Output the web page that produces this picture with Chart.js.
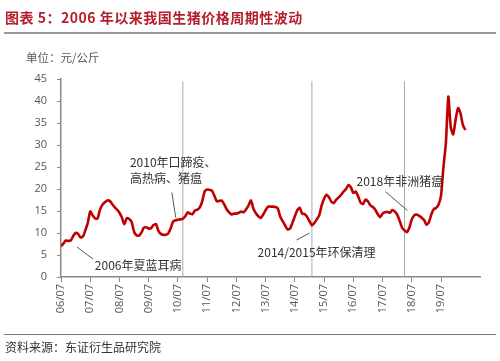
<!DOCTYPE html>
<html>
<head>
<meta charset="utf-8">
<script src="https://cdn.jsdelivr.net/npm/chart.js@4/dist/chart.umd.min.js"></script>
<style>
  body { margin: 0; background: #fff; }
  #wrap { position: relative; width: 500px; height: 361px; overflow: hidden; font-family: "Noto Sans CJK SC", sans-serif; }
  #c { position: absolute; left: 0; top: 0; }
  .title { position: absolute; left: 5px; top: 7px; font-size: 14px; font-weight: bold; color: #b3202c; letter-spacing: 0.5px; }
  .rule { position: absolute; left: 4px; width: 492px; height: 2px; background: #9a9a9a; }
  .unit { position: absolute; left: 26px; top: 49px; font-size: 11.5px; color: #555; }
  .src { position: absolute; left: 5px; top: 338px; font-size: 12px; color: #333; }
</style>
</head>
<body>
<div id="wrap">
  <canvas id="c" width="500" height="361"></canvas>
  <div class="title">图表 5：2006 年以来我国生猪价格周期性波动</div>
  <div class="rule" style="top:32px"></div>
  <div class="unit">单位：元/公斤</div>
  <div class="rule" style="top:334px;height:1px;background:#777"></div>
  <div class="src">资料来源：东证衍生品研究院</div>
</div>
<script>
// 月度生猪价格（元/公斤），2006/07 起
const priceValues = [
  7.0, 7.6, 8.3, 8.2, 8.3, 9.3, 10.0, 9.8, 9.0, 9.2, 10.6, 12.3,
  14.9, 14.0, 13.3, 13.3, 15.3, 16.4, 17.0, 17.4, 17.3, 16.6, 15.9, 15.3,
  14.6, 13.5, 12.0, 13.4, 13.2, 12.5, 10.3, 9.5, 9.4, 10.1, 11.2, 11.3,
  11.0, 11.1, 11.8, 12.0, 10.5, 9.8, 9.6, 9.6, 9.9, 11.0, 12.6, 12.9,
  13.0, 13.1, 13.2, 13.8, 14.7, 14.4, 14.3, 15.1, 15.3, 15.8, 17.3, 19.5,
  19.9, 19.8, 19.6, 18.4, 17.2, 17.3, 17.4, 16.5, 15.4, 14.7, 14.2, 14.4,
  14.4, 14.6, 14.9, 14.7, 15.4, 16.3, 17.4, 15.5, 14.5, 13.8, 13.4, 14.2,
  15.2, 16.0, 16.0, 16.0, 15.9, 15.6, 13.7, 12.7, 11.7, 10.8, 11.0, 12.3,
  13.8, 15.2, 15.7, 14.4, 14.3, 13.7, 12.7, 11.7, 12.3, 13.1, 14.0, 16.3,
  17.8, 18.7, 18.1, 17.1, 16.8, 17.6, 18.1, 18.7, 19.4, 20.0, 20.9, 20.4,
  19.1, 19.4, 18.3, 16.9, 16.6, 17.6, 17.2, 16.3, 15.9, 15.3, 14.3, 13.6,
  14.4, 14.7, 14.8, 14.6, 15.2, 14.9, 14.2, 12.8, 11.2, 10.6, 10.2, 11.2,
  13.1, 14.0, 14.2, 13.9, 13.5, 13.0, 11.9, 12.4, 14.2, 15.4, 15.7, 16.5,
  18.5, 25.0, 30.5, 41.0, 34.0, 32.4, 35.8, 38.4, 37.2, 34.5, 33.4
];
const tickLabels = ["06/07", "07/07", "08/07", "09/07", "10/07", "11/07", "12/07",
  "13/07", "14/07", "15/07", "16/07", "17/07", "18/07", "19/07"];
// 事件分割线所在月份序号
const eventMonths = [50, 103, 141];
const eventTop = 44.5;

const pricePoints = priceValues.map((v, i) => ({ x: i, y: v }));

const eventSets = eventMonths.map(m => ({
  data: [{ x: m, y: 0 }, { x: m, y: eventTop }],
  borderColor: "#aaaaaa",
  borderWidth: 1,
  pointRadius: 0,
  order: 2
}));

// 注释文字与引线（数据坐标）
const notes = [
  { lines: ["2010年口蹄疫、", "高热病、猪瘟"], x: 28.3, y: 26.0, lead: [45.5, 19.2, 47.1, 13.5] },
  { lines: ["2006年夏蓝耳病"], x: 13.9, y: 2.7, lead: [6.6, 6.8, 13.1, 4.1] },
  { lines: ["2014/2015年环保清理"], x: 80.7, y: 5.5, lead: [96.7, 8.4, 102, 10.0] },
  { lines: ["2018年非洲猪瘟"], x: 121.3, y: 21.7, lead: [133.2, 19.4, 142.2, 15.1] }
];

const notePlugin = {
  id: "notes",
  afterDatasetsDraw(chart) {
    const { ctx, scales: { x, y } } = chart;
    ctx.save();
    ctx.strokeStyle = "#555";
    ctx.lineWidth = 1;
    ctx.fillStyle = "#333";
    ctx.font = '12px "Noto Sans CJK SC"';
    ctx.textBaseline = "middle";
    notes.forEach(n => {
      n.lines.forEach((t, k) => {
        ctx.fillText(t, x.getPixelForValue(n.x), y.getPixelForValue(n.y) + k * 16);
      });
      ctx.beginPath();
      ctx.moveTo(x.getPixelForValue(n.lead[0]), y.getPixelForValue(n.lead[1]));
      ctx.lineTo(x.getPixelForValue(n.lead[2]), y.getPixelForValue(n.lead[3]));
      ctx.stroke();
    });
    ctx.restore();
  }
};

new Chart(document.getElementById("c"), {
  type: "line",
  data: {
    datasets: [{
      data: pricePoints,
      borderColor: "#c00000",
      borderWidth: 2.6,
      pointRadius: 0,
      tension: 0.2,
      order: 1
    }, ...eventSets]
  },
  options: {
    responsive: false,
    animation: false,
    layout: { padding: { top: 79, right: 20, bottom: 44, left: 0 } },
    plugins: { legend: { display: false }, tooltip: { enabled: false } },
    scales: {
      x: {
        type: "linear",
        min: 0,
        max: 172,
        afterBuildTicks(s) { s.ticks = tickLabels.map((_, i) => ({ value: i * 12 })); },
        afterFit(s) { s.height = 40; },
        ticks: {
          autoSkip: false,
          maxRotation: 90,
          minRotation: 90,
          padding: 2,
          color: "#555",
          font: { family: "Open Sans", size: 11 },
          callback: v => tickLabels[v / 12]
        },
        grid: { drawOnChartArea: false, tickLength: 5, color: "#888" },
        border: { color: "#888", width: 1.5 }
      },
      y: {
        min: 0,
        max: 45,
        afterFit(s) { s.width = 61; },
        ticks: {
          stepSize: 5,
          padding: 10,
          color: "#555",
          font: { family: "Open Sans", size: 11 }
        },
        grid: { drawOnChartArea: false, tickLength: 4, color: "#888" },
        border: { color: "#888", width: 1.5 }
      }
    }
  },
  plugins: [notePlugin]
});
</script>
</body>
</html>
